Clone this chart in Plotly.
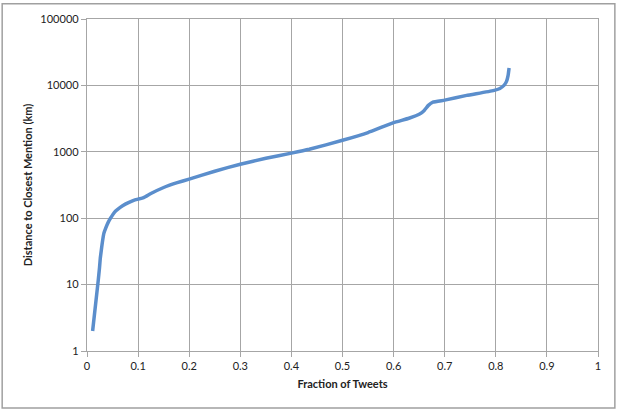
import plotly.graph_objects as go

# curve (fraction of tweets vs distance in km)
fraction = [0.011, 0.022, 0.0245, 0.026, 0.028, 0.030, 0.033, 0.037, 0.041, 0.046,
            0.051, 0.056, 0.065, 0.075, 0.089, 0.100, 0.108, 0.115, 0.125, 0.150,
            0.175, 0.200, 0.250, 0.300, 0.350, 0.400, 0.435, 0.500, 0.550, 0.600,
            0.630, 0.651, 0.660, 0.668, 0.677, 0.700, 0.743, 0.795, 0.808, 0.816,
            0.821, 0.824, 0.826]
distance_km = [2, 11.6, 18, 25, 33, 43, 59, 72, 85, 100,
               115, 128, 146, 163, 183, 194, 200, 212, 235, 290,
               340, 388, 510, 650, 800, 955, 1090, 1490, 1950, 2750,
               3200, 3700, 4200, 5000, 5600, 6000, 7070, 8350, 9000, 10000,
               11500, 14000, 18300]

y_ticks = [1, 10, 100, 1000, 10000, 100000]
y_labels = ["1", "10", "100", "1000", "10000", "100000"]

grid = "#A6A6A6"

fig = go.Figure(go.Scatter(x=fraction, y=distance_km, mode="lines",
                           line=dict(color="#5B8ECC", width=3.5, shape="spline", smoothing=0.3)))

fig.update_layout(
    width=618, height=411,
    margin=dict(l=86.5, r=19.5, t=17, b=60),
    plot_bgcolor="white", paper_bgcolor="white",
    showlegend=False,
    font=dict(family="Lato", size=11, color="#222222"),
)
fig.update_xaxes(range=[0, 1], dtick=0.1, showgrid=True, gridcolor=grid, gridwidth=1.3,
                 showline=True, linecolor=grid, linewidth=1.3, mirror=True,
                 ticks="outside", ticklen=5, tickcolor=grid, zeroline=False,
                 title=dict(text="<b>Fraction of Tweets</b>", standoff=8, font=dict(size=11)))
fig.update_yaxes(type="log", range=[0, 5], tickvals=y_ticks, ticktext=y_labels,
                 showgrid=True, gridcolor=grid, gridwidth=1.3,
                 showline=True, linecolor=grid, linewidth=1.3, mirror=True,
                 ticks="outside", ticklen=5, tickcolor=grid, zeroline=False,
                 title=dict(text="<b>Distance to Closest Mention (km)</b>", standoff=5,
                            font=dict(size=11)))

# outer chart border
fig.add_shape(type="rect", xref="paper", yref="paper",
              x0=-0.166, x1=1.033, y0=-0.172, y1=1.046,
              line=dict(color="#A0A0A0", width=1.5))

fig.write_html("out.html", config={"displayModeBar": False},
               post_script="document.body.style.margin='0';")
